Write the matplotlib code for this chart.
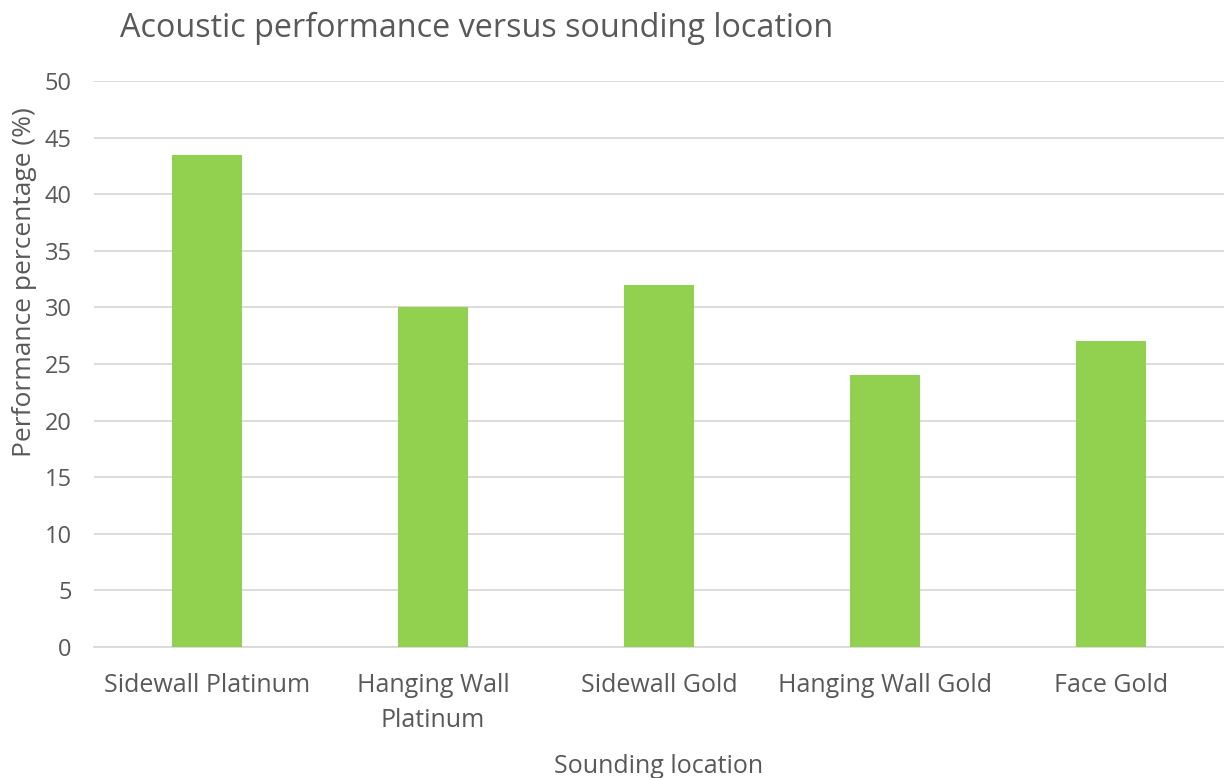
import matplotlib
matplotlib.use("Agg")
import matplotlib.pyplot as plt

locations = ["Sidewall Platinum", "Hanging Wall\nPlatinum", "Sidewall Gold",
             "Hanging Wall Gold", "Face Gold"]
performance = [43.5, 30, 32, 24, 27]
y_ticks = [0, 5, 10, 15, 20, 25, 30, 35, 40, 45, 50]

plt.rcParams['font.family'] = ['Open Sans', 'DejaVu Sans']
text_color = '#595959'

fig = plt.figure(figsize=(12.24, 7.78), dpi=100)
ax = fig.add_axes([94/1224, 1 - 647/778, 1 - 94/1224, (647 - 81)/778])

x = range(len(locations))
ax.bar(x, performance, width=0.31, color='#92D050', zorder=3)

ax.set_xlim(-0.5, len(locations) - 0.5)
ax.set_ylim(0, 50)
ax.set_yticks(y_ticks)
ax.set_xticks(list(x))
ax.set_xticklabels(locations, fontsize=18, color=text_color, linespacing=1.5)
ax.tick_params(axis='y', labelsize=17, labelcolor=text_color, length=0, pad=16)
ax.tick_params(axis='x', length=0, pad=19)

ax.grid(axis='y', color='#d9d9d9', linewidth=1.3, zorder=0)
for side in ['top', 'right', 'left']:
    ax.spines[side].set_visible(False)
ax.spines['bottom'].set_color('#d9d9d9')
ax.spines['bottom'].set_linewidth(1.3)

ax.set_ylabel("Performance percentage (%)", fontsize=19, color=text_color)
ax.yaxis.set_label_coords(-57/1130, 0.645)
ax.set_xlabel("Sounding location", fontsize=18, color=text_color)
ax.xaxis.set_label_coords(0.5, -107/566)
fig.text(120/1224, 1 - 28/778, "Acoustic performance versus sounding location",
         fontsize=23.3, color=text_color, va='center', ha='left')

fig.savefig("out.png", dpi=100)
